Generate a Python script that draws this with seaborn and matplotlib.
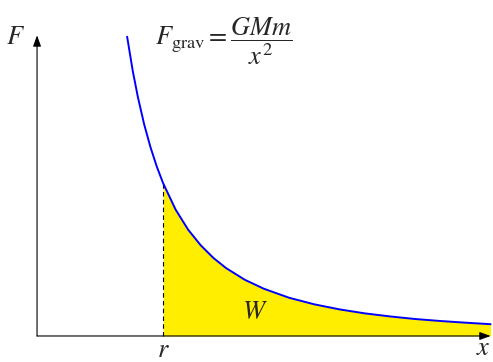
import matplotlib
matplotlib.use("Agg")
import matplotlib.pyplot as plt
import seaborn as sns
import pandas as pd

sns.set_theme(style="white")
plt.rcParams["mathtext.fontset"] = "stix"
plt.rcParams["font.family"] = ["STIXGeneral", "DejaVu Serif"]

# Sampled points of the force curve F = 1/x^2 (units where r = 1)
x_vals = [0.715, 0.76, 0.8, 0.85, 0.9, 0.95, 1.0, 1.1, 1.2, 1.3, 1.4, 1.5,
          1.65, 1.8, 2.0, 2.2, 2.4, 2.6, 2.8, 3.0, 3.2, 3.4, 3.6]
f_vals = [1.956, 1.731, 1.563, 1.384, 1.235, 1.108, 1.000, 0.826, 0.694,
          0.592, 0.510, 0.444, 0.367, 0.309, 0.250, 0.207, 0.174, 0.148,
          0.128, 0.111, 0.098, 0.087, 0.077]
r_pos = 1.0
r_force = 1.0

df = pd.DataFrame({"x": x_vals, "F": f_vals})
fill = df[df["x"] >= r_pos]

fig = plt.figure(figsize=(4.93, 3.62), dpi=100)
ax = fig.add_axes([0, 0, 1, 1])
ax.set_xlim(-0.294, 3.619)
ax.set_ylim(-0.17, 2.196)
ax.axis("off")

# shaded work area
ax.fill_between(fill["x"], 0, fill["F"], color="#FFEE00", linewidth=0, zorder=1)

# curve
sns.lineplot(data=df, x="x", y="F", color="#0000FF", linewidth=1.4,
             ax=ax, zorder=3, sort=False)

# dashed line at r
ax.plot([r_pos, r_pos], [0, r_force], color="black", linestyle=(0, (4, 3)),
        linewidth=0.8, zorder=2)

# axes with arrows
arrow = dict(arrowstyle="-|>,head_length=0.55,head_width=0.2", color="black",
             linewidth=0.8, shrinkA=0, shrinkB=0)
ax.annotate("", xy=(3.6, 0), xytext=(0, 0), arrowprops=arrow, zorder=4)
ax.annotate("", xy=(0, 1.965), xytext=(0, 0), arrowprops=arrow, zorder=4)

# labels
fs = 19
ax.text(-0.167, 1.95, r"$F$", fontsize=fs, ha="center", va="center")
ax.text(3.60, -0.085, r"$x$", fontsize=fs, ha="right", va="center")
ax.text(r_pos, -0.095, r"$r$", fontsize=fs, ha="center", va="center")
ax.text(1.73, 0.15, r"$W$", fontsize=fs, ha="center", va="center")
ax.text(1.484, 1.93, r"$F_{\mathrm{grav}} = \dfrac{GMm}{x^2}$", fontsize=fs,
        ha="center", va="center")

fig.savefig("out.png", dpi=100)
